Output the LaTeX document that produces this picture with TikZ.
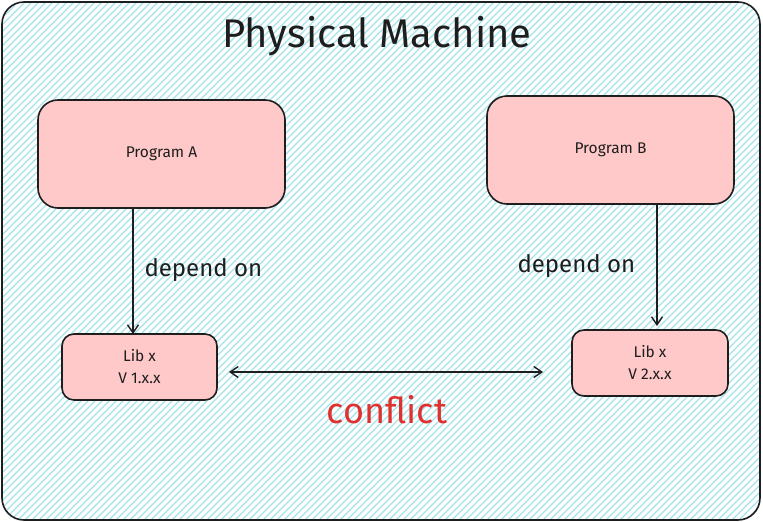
\documentclass[tikz,border=0pt]{standalone}
\usepackage{fontspec}
\setmainfont{Fira Sans}
\usetikzlibrary{arrows.meta}
\definecolor{hatch}{HTML}{A5E3EC}
\definecolor{boxfill}{HTML}{FFC9C9}
\definecolor{ink}{HTML}{1E1E1E}
\definecolor{conf}{HTML}{E03131}
\tikzset{
  x=1pt,y=-1pt,
  progbox/.style={draw=ink,line width=1.6pt,fill=boxfill,rounded corners=20pt},
  libbox/.style={draw=ink,line width=1.6pt,fill=boxfill,rounded corners=12pt},
  boxtext/.style={font=\fontsize{15.5}{22}\selectfont,text=ink,align=center},
  lbl/.style={font=\fontsize{24}{28}\selectfont,text=ink},
  conn/.style={draw=ink,line width=1.4pt,-{Straight Barb[length=8pt,width=11pt]}},
}
\begin{document}
\begin{tikzpicture}
\useasboundingbox (0,0) rectangle (763,522);
\fill[white] (0,0) rectangle (763,522);
\begin{scope}
\clip[rounded corners=22pt] (2,2) rectangle (760,520);
\foreach \k in {-530,-523,...,770} {
  \draw[hatch,line width=1.3pt] (\k,522) -- (\k+522,0);
}
\end{scope}
\draw[ink,line width=1.6pt,rounded corners=22pt] (2,2) rectangle (760,520);
\node[font=\fontsize{40}{44}\selectfont,text=ink] (title) at (377,36) {Physical Machine};
\draw[progbox] (38,100) rectangle (285,208);
\node[boxtext] (pa) at (161.5,154) {Program A};
\draw[progbox] (487,96) rectangle (734,204);
\node[boxtext] (pb) at (610.5,150) {Program B};
\draw[libbox] (62,334) rectangle (217,400);
\node[boxtext] (la) at (139.5,367) {Lib x\\V 1.x.x};
\draw[libbox] (572,330) rectangle (728,396);
\node[boxtext] (lb) at (650,363) {Lib x\\V 2.x.x};
\coordinate (a1) at (133,209);
\coordinate (a2) at (133,334);
\coordinate (b1) at (657,205);
\coordinate (b2) at (657,326);
\coordinate (c1) at (229,372);
\coordinate (c2) at (543,372);
\draw[conn] (a1) -- (a2);
\draw[conn] (b1) -- (b2);
\draw[conn,{Straight Barb[length=8pt,width=11pt]}-{Straight Barb[length=8pt,width=11pt]}] (c1) -- (c2);
\node[lbl,anchor=west] (d1) at (141,270) {depend on};
\node[lbl,anchor=west] (d2) at (514,266) {depend on};
\node[font=\fontsize{36}{40}\selectfont,text=conf] (cf) at (387,410) {conflict};
\end{tikzpicture}
\end{document}
